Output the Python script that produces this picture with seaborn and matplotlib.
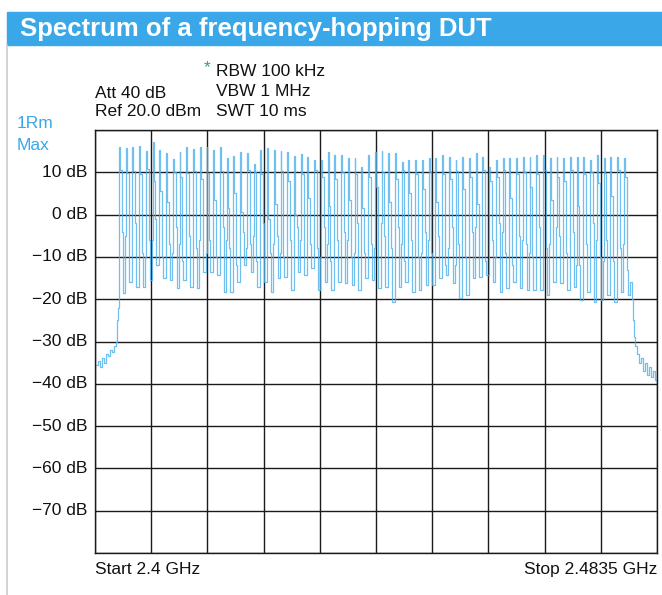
import numpy as np
import pandas as pd
import matplotlib
matplotlib.use("Agg")
import matplotlib.pyplot as plt
import seaborn as sns

# ---- data (MHz / dB) ----
f_start = 2400.0
f_stop = 2483.5

# start frequency of each hop channel (MHz)
ch_start = np.arange(2403.5, 2479.5, 1.0)

peak = [16.0, 15.8, 16.0, 16.2, 15.0, 17.2, 15.2, 14.6, 13.2, 14.8, 16.0, 15.4, 16.0,
        16.0, 15.3, 16.0, 13.3, 13.9, 14.9, 14.5, 12.0, 15.3, 15.7, 15.3, 15.0, 14.9, 13.9, 14.3, 13.5,
        12.9, 12.9, 14.9, 14.1, 14.1, 13.4, 13.4, 11.3, 14.1, 14.9, 15.0, 14.5, 14.5, 12.5, 12.9, 12.9, 12.9,
        13.3, 13.3, 14.1, 13.7, 12.9, 13.7, 13.3, 14.5, 13.7, 11.3, 12.9, 13.3, 13.3, 13.3, 13.7, 13.7,
        14.1, 14.1, 13.3, 13.7, 13.3, 13.7, 13.7, 13.7, 12.9, 14.1, 13.3, 13.7, 13.7, 13.3]

shoulder = [10.5, 9.8, 10.2, 9.5, 10.8, 8.0, 5.5, 3.0, 10.0, 9.0, 9.8, 10.4, 8.5,
            9.8, 3.5, 10.2, 1.5, 5.0, 0.5, 10.5, 10.0, 9.5, -1.0, 2.5, 10.2, 8.0, 0.0, 9.5, 4.0,
            10.5, 9.0, 2.0, 8.5, 10.0, 3.5, 9.5, 1.5, 9.0, 6.5, 10.0, 3.0, 8.5, 10.5, 5.0, 9.5, 6.0,
            10.0, 3.0, 9.5, 8.5, 10.2, 6.0, 9.0, 2.5, 10.5, 8.0, 9.0, 10.5, 4.0, 9.5, 10.0, 6.5,
            9.5, 10.5, 3.5, 9.0, 8.0, 10.5, 2.0, 9.5, 10.0, 7.5, 9.8, 4.5, 10.5, 9.0]

rise_step = [-22, -5, -8, -3, -10, -6, -12, -4, -9, -7, -2, -11, -6,
             -9, -4, -12, -6, -3, -10, -8, -5, -11, -2, -7, -9, -4, -12, -6, -8,
             -5, -10, -7, -3, -11, -6, -9, -4, -12, -8, -2, -10, -5, -7, -11, -3, -9,
             -6, -10, -4, -8, -12, -5, -9, -3, -11, -7, -10, -4, -8, -12, -6, -9,
             -5, -11, -7, -3, -10, -8, -12, -4, -9, -6, -11, -5, -10, -7]

fall_step = [-4, -12, -2, -9, -6, -1, -10, -7, -3, -11, -5, -8, -2,
             -6, -10, -3, -8, -12, -4, -7, -11, -2, -9, -5, -10, -6, -3, -12, -7,
             -8, -3, -11, -6, -4, -10, -2, -9, -7, -12, -5, -8, -3, -11, -6, -10, -4,
             -9, -5, -12, -3, -7, -10, -4, -8, -11, -6, -2, -9, -12, -5, -7, -10,
             -3, -8, -11, -5, -9, -4, -12, -7, -2, -10, -6, -11, -8, -13]

floor = [-18.5, -16.0, -17.1, -17.1, -15.5, -12.0, -15.0, -15.5, -17.3, -15.5, -17.1, -17.3, -13.6,
         -13.5, -14.3, -18.2, -18.2, -15.9, -11.9, -13.5, -17.0, -15.9, -18.2, -15.1, -14.7, -17.8, -13.5, -14.3, -12.7,
         -17.8, -15.9, -17.8, -15.9, -16.2, -16.6, -17.8, -15.1, -15.5, -17.4, -17.0, -20.6, -17.0, -15.9, -18.2, -17.8, -16.6,
         -16.6, -15.1, -14.3, -16.2, -19.8, -19.0, -15.1, -14.7, -14.3, -15.9, -18.2, -17.4, -15.9, -17.4, -17.8, -17.8,
         -17.8, -19.0, -15.9, -16.2, -17.8, -17.0, -20.2, -18.2, -20.6, -20.2, -19.0, -20.6, -18.2, -19.0]

# noise floor below and above the hopping band
low_skirt_f = [2400.1, 2400.45, 2400.75, 2401.05, 2401.35, 2401.65, 2401.95, 2402.25,
               2402.55, 2402.85, 2403.1, 2403.25, 2403.4]
low_skirt_db = [-35.5, -34.5, -36.0, -34.0, -35.0, -33.0, -33.5, -32.0,
                -32.5, -31.0, -30.0, -25.0, -22.0]
high_skirt_f = [2479.5, 2479.8, 2479.95, 2480.1, 2480.25, 2480.55, 2480.85, 2481.15,
                2481.45, 2481.7, 2482.0, 2482.3, 2482.6, 2482.9, 2483.2, 2483.5]
high_skirt_db = [-16.0, -20.0, -25.0, -29.0, -31.0, -33.0, -35.0, -34.0,
                 -37.0, -35.0, -38.0, -36.0, -38.5, -37.0, -39.0, -38.0]

y_ticks = [10, 0, -10, -20, -30, -40, -50, -60, -70]

# ---- assemble the max-hold trace as a step sequence ----
freqs = list(low_skirt_f)
levels = list(low_skirt_db)
offsets = [0.0, 0.07, 0.2, 0.48, 0.62]
for k, s in enumerate(ch_start):
    vals = [rise_step[k], peak[k], shoulder[k], fall_step[k], floor[k]]
    for o, v in zip(offsets, vals):
        freqs.append(s + o)
        levels.append(v)
freqs += high_skirt_f
levels += high_skirt_db
trace = pd.DataFrame({"freq": freqs, "level": levels})

# ---- figure ----
sns.set_theme(style="white")
plt.rcParams["font.family"] = ["Liberation Sans", "DejaVu Sans"]

W, H = 662, 595
fig = plt.figure(figsize=(W / 100, H / 100), dpi=100)
fig.patch.set_facecolor("white")

blue = "#3aa8e8"
ink = "#111111"

# header bar
fig.patches.append(plt.Rectangle((7 / W, 1 - 45 / H), 1 - 7 / W, 33 / H,
                                 transform=fig.transFigure, color=blue, zorder=0))
fig.text(20 / W, 1 - 29 / H, "Spectrum of a frequency-hopping DUT", color="white",
         fontsize=18.5, fontweight="bold", va="center", ha="left")
# left border
fig.add_artist(plt.Line2D([7 / W, 7 / W], [0, 1 - 45 / H], transform=fig.transFigure,
                          color="#cccccc", lw=1.2))

ax = fig.add_axes([95 / W, 1 - 553 / H, 562 / W, 423 / H])
sns.lineplot(data=trace, x="freq", y="level", ax=ax, estimator=None, sort=False,
             drawstyle="steps-post", color="#4db0ec", lw=0.9, alpha=0.8)

ax.set_xlim(f_start, f_stop)
ax.set_ylim(-80, 20)
ax.set_xticks(np.linspace(f_start, f_stop, 11))
ax.set_yticks(np.arange(-80, 21, 10))
ax.grid(True, color="#1a1a1a", lw=1.0)
ax.set_axisbelow(True)
ax.tick_params(left=False, bottom=False, labelleft=False, labelbottom=False)
ax.set_xlabel("")
ax.set_ylabel("")
for sp in ax.spines.values():
    sp.set_color("#1a1a1a")
    sp.set_linewidth(1.0)

fs = 12.5

# y labels
for v in y_ticks:
    lab = f"{v} dB".replace("-", "\u2212")
    ax.text(-0.013, (v + 80) / 100, lab, transform=ax.transAxes, ha="right",
            va="center", fontsize=fs, color=ink)

# x labels
ax.text(0, -0.022, "Start 2.4 GHz", transform=ax.transAxes, ha="left", va="top",
        fontsize=fs, color=ink)
ax.text(1, -0.022, "Stop 2.4835 GHz", transform=ax.transAxes, ha="right", va="top",
        fontsize=fs, color=ink)

# instrument settings
fig.text(95 / W, 1 - 93 / H, "Att 40 dB", fontsize=fs, va="center", color=ink)
fig.text(95 / W, 1 - 112 / H, "Ref 20.0 dBm", fontsize=fs, va="center", color=ink)
fig.text(204 / W, 1 - 68 / H, "*", fontsize=fs, va="center", color="#2ba36b")
fig.text(216 / W, 1 - 71 / H, "RBW 100 kHz", fontsize=fs, va="center", color=ink)
fig.text(216 / W, 1 - 92 / H, "VBW 1 MHz", fontsize=fs, va="center", color=ink)
fig.text(216 / W, 1 - 112 / H, "SWT 10 ms", fontsize=fs, va="center", color=ink)
fig.text(17 / W, 1 - 124 / H, "1Rm", fontsize=fs, va="center", color=blue)
fig.text(17 / W, 1 - 145 / H, "Max", fontsize=fs, va="center", color=blue)

fig.savefig("out.png", dpi=100)
